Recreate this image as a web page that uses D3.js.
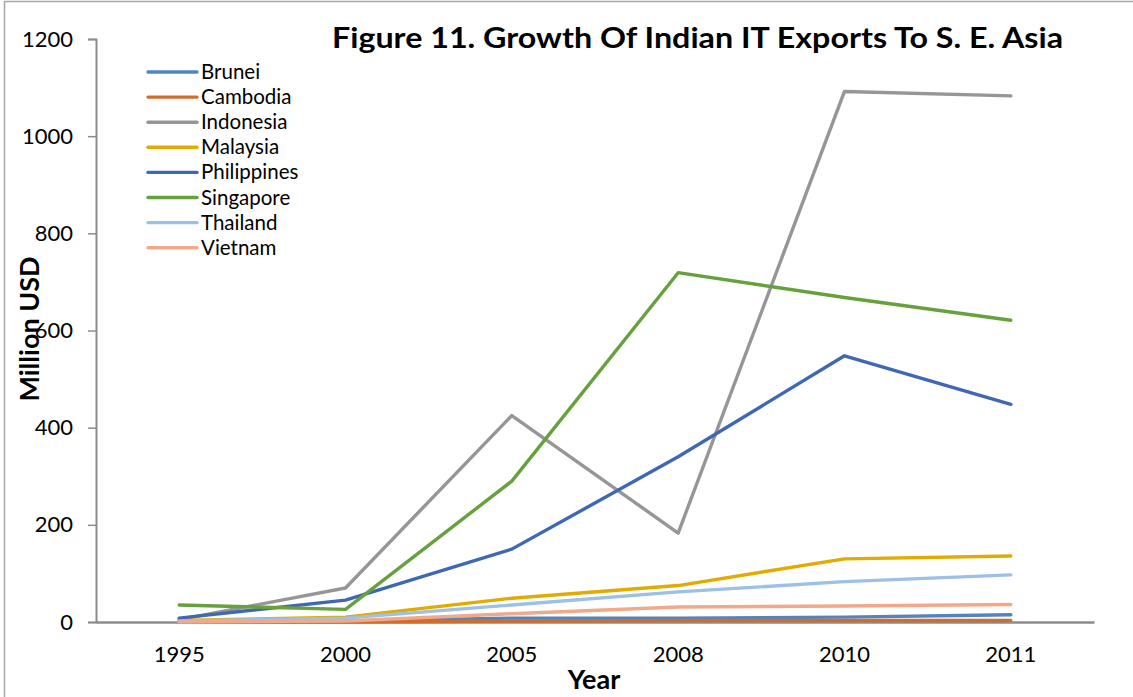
<!DOCTYPE html>
<html>
<head>
<meta charset="utf-8">
<script src="https://cdn.jsdelivr.net/npm/d3@7"></script>
<style>
  html, body { margin: 0; padding: 0; background: #fff; }
  svg { display: block; font-family: Lato, "Open Sans", sans-serif; }
</style>
</head>
<body>
<svg id="chart" width="1133" height="697"></svg>
<script>
// Years on the category axis
const years = ["1995", "2000", "2005", "2008", "2010", "2011"];
const yTicks = [0, 200, 400, 600, 800, 1000, 1200];

// Export values, million USD
const brunei      = [1, 2, 8, 8, 10, 15];
const cambodia    = [0, 0, 2, 3, 3, 3];
const indonesia   = [5, 70, 425, 183, 1092, 1083];
const malaysia    = [3, 10, 49, 75, 130, 136];
const philippines = [8, 45, 150, 340, 548, 448];
const singapore   = [35, 26, 290, 719, 668, 621];
const thailand    = [2, 8, 35, 62, 83, 97];
const vietnam     = [0, 2, 17, 31, 33, 36];

const seriesNames = ["Brunei", "Cambodia", "Indonesia", "Malaysia", "Philippines", "Singapore", "Thailand", "Vietnam"];
const seriesValues = [brunei, cambodia, indonesia, malaysia, philippines, singapore, thailand, vietnam];
const seriesColors = ["#4f86c0", "#d26c2c", "#969696", "#e2ab00", "#3e68b4", "#67a13e", "#9dc0e6", "#f2a98a"];

const svg = d3.select("#chart");

// outer frame (left and top edges visible)
svg.append("rect")
  .attr("x", 4.5).attr("y", 1.5)
  .attr("width", 1200).attr("height", 800)
  .attr("fill", "none").attr("stroke", "#a6a6a6").attr("stroke-width", 1.5);

const x = d3.scaleBand().domain(years).range([96, 1094]);
const y = d3.scaleLinear().domain([0, 1200]).range([622, 39]);

// y axis
const yAxis = svg.append("g").attr("transform", "translate(96,0)")
  .call(d3.axisLeft(y).tickValues(yTicks).tickSize(8).tickPadding(15).tickFormat(d3.format("d")));
yAxis.select(".domain").attr("stroke", "#8c8c8c").attr("stroke-width", 2);
yAxis.selectAll(".tick line").attr("stroke", "#8c8c8c").attr("stroke-width", 1.5);
yAxis.selectAll(".tick text").attr("font-size", 22).attr("fill", "#000")
  .attr("font-family", "Lato, sans-serif");

// x axis
const xAxis = svg.append("g").attr("transform", "translate(0,622)")
  .call(d3.axisBottom(x).tickSize(0).tickPadding(24));
xAxis.select(".domain").attr("stroke", "#8c8c8c").attr("stroke-width", 2.5);
xAxis.selectAll(".tick text").attr("font-size", 22).attr("fill", "#000")
  .attr("font-family", "Lato, sans-serif");

// series lines
const line = d3.line()
  .x((d, i) => x(years[i]) + x.bandwidth() / 2)
  .y(d => y(d));

seriesValues.forEach((vals, k) => {
  svg.append("path")
    .datum(vals)
    .attr("d", line)
    .attr("fill", "none")
    .attr("stroke", seriesColors[k])
    .attr("stroke-width", 3.4)
    .attr("stroke-linejoin", "round")
    .attr("stroke-linecap", "round");
});

// legend
const legend = svg.append("g");
seriesNames.forEach((name, k) => {
  const ly = 72 + k * 25.1;
  legend.append("line")
    .attr("x1", 148).attr("x2", 197).attr("y1", ly).attr("y2", ly)
    .attr("stroke", seriesColors[k]).attr("stroke-width", 3.4)
    .attr("stroke-linecap", "round");
  legend.append("text")
    .attr("x", 201).attr("y", ly + 7)
    .attr("font-size", 20.5).attr("fill", "#000")
    .text(name);
});

// title
svg.append("text")
  .attr("x", 332).attr("y", 48)
  .attr("font-size", 29).attr("font-weight", "bold").attr("fill", "#000")
  .attr("textLength", 731).attr("lengthAdjust", "spacingAndGlyphs")
  .text("Figure 11. Growth Of Indian IT Exports To S. E. Asia");

// axis titles
svg.append("text")
  .attr("x", 594).attr("y", 689)
  .attr("text-anchor", "middle")
  .attr("font-size", 27).attr("font-weight", "bold").attr("fill", "#000")
  .text("Year");

svg.append("text")
  .attr("transform", "translate(39,329) rotate(-90)")
  .attr("text-anchor", "middle")
  .attr("font-size", 27).attr("font-weight", "bold").attr("fill", "#000")
  .text("Million USD");
</script>
</body>
</html>
